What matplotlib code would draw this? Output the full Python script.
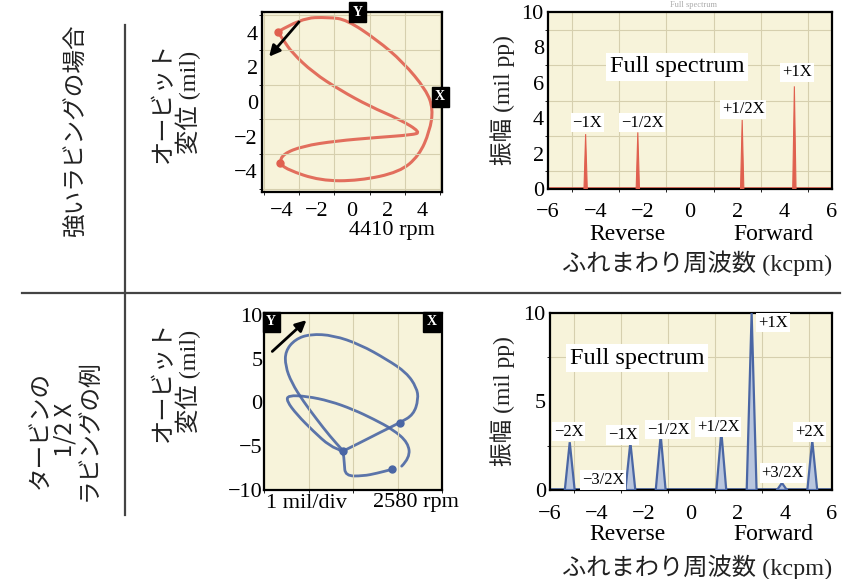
import matplotlib
matplotlib.use("Agg")
import matplotlib.pyplot as plt
from matplotlib.path import Path
from matplotlib.patches import PathPatch
import numpy as np

W, H = 859, 579
SERIF = ["Liberation Serif", "Noto Sans CJK JP"]
GOTH = ["Noto Sans CJK JP", "DejaVu Sans"]
PAPER = "#f7f3da"
GRID = "#d6cfae"
RED = "#e0604f"
BLUE = "#4a66a4"

# --- orbit, strong rub (4410 rpm), mil
orb1_x = [-4.2, -2.9, -1.3, -0.3, 1.4, 2.9, 4.2, 4.6, 4.4, 3.8, 2.7, 0.4, -1.8, -3.7,
          -4.1, -3.9, -2.8, -0.9, 1.4, 3.4, 3.9, 2.7, 1.0, -0.7, -2.2, -3.4, -3.9, -4.2]
orb1_y = [4.05, 4.85, 4.9, 4.75, 3.6, 2.3, 0.7, -0.4, -1.7, -3.1, -4.05, -4.55, -4.55, -3.9,
          -3.5, -3.0, -2.55, -2.25, -2.05, -1.9, -1.75, -1.0, -0.25, 0.7, 1.7, 2.85, 3.6, 4.05]
orb1_dot_x = [-4.2, -4.1]
orb1_dot_y = [4.05, -3.5]

# --- orbit, turbine 1/2X rub (2580 rpm), mil
orb2a_x = [5.47, 6.4, 6.2, 4.5, 2.3, 0.0, -2.6, -5.2, -7.3, -7.45, -6.3, -4.45, -2.6, -1.1,
           -0.98, -0.87, 1.15, 2.65, 4.35]
orb2a_y = [-7.28, -6.32, -4.6, -3.1, -1.9, -0.8, 0.15, 0.7, 0.8, 0.15, -1.4, -3.3, -5.0, -5.55,
           -6.9, -8.4, -8.4, -8.1, -7.65]
orb2b_x = [-1.1, 0.8, 3.0, 5.3, 6.8, 7.35, 7.15, 6.0, 3.8, 0.8, -2.2, -4.8, -6.5, -7.6,
           -7.6, -6.9, -5.6, -4.1, -2.6, -1.1]
orb2b_y = [-5.55, -4.6, -3.45, -2.3, -1.4, 0.35, 1.7, 3.4, 4.9, 6.6, 7.65, 7.8, 7.2, 5.85,
           4.15, 2.25, 0.15, -1.9, -3.85, -5.55]
orb2_dot_x = [5.3, -1.1, 4.35]
orb2_dot_y = [-2.3, -5.55, -7.65]

# --- full spectra (kcpm, mil pp)
spec1_f = [-4.41, -2.205, 2.205, 4.41]
spec1_a = [3.1, 3.2, 3.9, 5.8]
spec1_lab = ["\u22121X", "\u22121/2X", "+1/2X", "+1X"]

spec2_f = [-5.16, -3.87, -2.58, -1.29, 1.29, 2.58, 3.87, 5.16]
spec2_a = [2.7, 0.1, 2.7, 3.1, 3.3, 10.0, 0.4, 2.8]
spec2_lab = ["\u22122X", "\u22123/2X", "\u22121X", "\u22121/2X", "+1/2X", "+1X", "+3/2X", "+2X"]


def box(l, t, r, b):
    return [l / W, 1 - b / H, (r - l) / W, (b - t) / H]


def ftext(x, y, s, **kw):
    fig.text(x / W, 1 - y / H, s, ha="center", va="center", **kw)


def paper(ax, xmaj, ymaj):
    ax.set_facecolor(PAPER)
    ax.set_xticks(xmaj, minor=True)
    ax.set_yticks(ymaj, minor=True)
    ax.grid(True, which="minor", color=GRID, lw=0.8)
    for s in ax.spines.values():
        s.set_linewidth(1.6)
        s.set_color("black")
    ax.tick_params(length=0, labelsize=16, pad=3)
    for lab in ax.get_xticklabels() + ax.get_yticklabels():
        lab.set_family(SERIF)


def smooth(ax, xs, ys, **kw):
    # quadratic bezier through the midpoints, so the trace looks hand-smooth
    pts = np.column_stack([xs, ys])
    verts = [pts[0]]
    codes = [Path.MOVETO]
    for i in range(1, len(pts) - 1):
        verts += [pts[i], (pts[i] + pts[i + 1]) / 2]
        codes += [Path.CURVE3, Path.CURVE3]
    verts.append(pts[-1])
    codes.append(Path.LINETO)
    ax.add_patch(PathPatch(Path(verts, codes), fill=False, capstyle="round",
                           joinstyle="round", **kw))


def xybox(ax, x, y, s):
    ax.text(x, y, s, transform=ax.transAxes, ha="center", va="center", color="white",
            fontsize=10, family=SERIF, fontweight="bold", clip_on=False, zorder=10,
            bbox=dict(boxstyle="square,pad=0.25", fc="black", ec="black"))


fig = plt.figure(figsize=(W / 100, H / 100), dpi=100)

# divider lines
fig.add_artist(plt.Line2D([22 / W, 840 / W], [1 - 293 / H] * 2, color="#444", lw=1.6))
fig.add_artist(plt.Line2D([125 / W] * 2, [1 - 25 / H, 1 - 515 / H], color="#444", lw=1.6))

# row labels
ftext(76, 130, "強いラビングの場合", rotation=90, fontsize=17, family=GOTH, color="#222")
ftext(65, 430, "タービンの\n1/2 X\nラビングの例", rotation=90, fontsize=17, family=GOTH,
      color="#222", linespacing=1.05, multialignment="center")
for yc in [102, 381]:
    ftext(177, yc, "オービット\n変位 (mil)", rotation=90, fontsize=17.5, family=SERIF,
          color="#222", linespacing=1.05, multialignment="center")

# ---------------- top orbit
ax1 = fig.add_axes(box(262, 12, 442, 192))
ax1.set_xlim(-5.1, 5.1)
ax1.set_ylim(-5.2, 5.2)
ax1.set_xticks([-4, -2, 0, 2, 4])
ax1.set_yticks([-4, -2, 0, 2, 4])
ax1.set_xticklabels(["\u22124", "\u22122", "0", "2", "4"])
ax1.set_yticklabels(["\u22124", "\u22122", "0", "2", "4"])
paper(ax1, np.arange(-5, 6, 1), np.arange(-5, 6, 1))
ax1.tick_params(axis="x", pad=7)
smooth(ax1, orb1_x, orb1_y, color=RED, lw=2.2, alpha=0.9)
ax1.plot(orb1_dot_x, orb1_dot_y, "o", color=RED, ms=5)
ax1.annotate("", xy=(-4.8, 2.5), xytext=(-2.9, 4.75),
             arrowprops=dict(arrowstyle="-|>", color="black", lw=2, mutation_scale=16))
xybox(ax1, 0.53, 1.0, "Y")
xybox(ax1, 0.99, 0.53, "X")
ftext(392, 230, "4410 rpm", fontsize=16, family=SERIF)

# ---------------- bottom orbit
ax2 = fig.add_axes(box(264, 313, 442, 490))
ax2.set_xlim(-10, 10)
ax2.set_ylim(-10, 10.2)
ax2.set_xticks([])
ax2.set_yticks([-10, -5, 0, 5, 10])
ax2.set_yticklabels(["\u221210", "\u22125", "0", "5", "10"])
paper(ax2, np.arange(-10, 11, 5), np.arange(-10, 11, 5))
ax2.tick_params(axis="y", pad=1)
smooth(ax2, orb2a_x, orb2a_y, color=BLUE, lw=2, alpha=0.9)
smooth(ax2, orb2b_x, orb2b_y, color=BLUE, lw=2, alpha=0.9)
ax2.plot(orb2_dot_x, orb2_dot_y, "o", color=BLUE, ms=5)
ax2.annotate("", xy=(-5.0, 9.6), xytext=(-9.3, 5.6),
             arrowprops=dict(arrowstyle="-|>", color="black", lw=2, mutation_scale=16))
xybox(ax2, 0.04, 0.95, "Y")
xybox(ax2, 0.94, 0.95, "X")
ftext(306, 503, "1 mil/div", fontsize=16, family=SERIF)
ftext(416, 503, "2580 rpm", fontsize=16, family=SERIF)

# ---------------- spectra
lab1_pos = [(-4.35, 3.75), (-2.03, 3.75), (2.24, 4.5), (4.52, 6.6)]
lab2_pos = [(-5.2, 3.3), (-3.74, 0.56), (-2.9, 3.1), (-0.98, 3.4), (1.15, 3.56), (3.49, 9.45),
            (3.91, 0.96), (5.06, 3.28)]

rows = [
    (box(548, 12, 832, 189), spec1_f, spec1_a, spec1_lab, lab1_pos, RED, 0.14, [0, 2, 4, 6, 8, 10],
     np.arange(0, 11, 1), 100, 235, 263, (-0.55, 6.9), 10),
    (box(550, 313, 832, 490), spec2_f, spec2_a, spec2_lab, lab2_pos, BLUE, 0.42, [0, 5, 10],
     np.arange(0, 11, 2.5), 401, 535, 567, (-2.3, 7.45), 11),
]
for (pos, f, a, labs, lpos, col, w, yt, ygrid, ymid, yfr, yxl, fsp, xpad) in rows:
    ax = fig.add_axes(pos)
    ax.set_xlim(-6, 6)
    ax.set_ylim(0, 10)
    ax.set_xticks([-6, -4, -2, 0, 2, 4, 6])
    ax.set_xticklabels(["\u22126", "\u22124", "\u22122", "0", "2", "4", "6"])
    ax.set_yticks(yt)
    paper(ax, np.arange(-6, 7, 1), ygrid)
    ax.tick_params(axis="x", pad=xpad)
    ax.axhline(0.06, color=col, lw=1.2, zorder=2)
    for fi, ai in zip(f, a):
        if col == RED:
            ax.fill([fi - w / 2, fi, fi + w / 2], [0, ai, 0], color=col, lw=0.8, zorder=3)
        else:
            ax.fill([fi - w / 2, fi, fi + w / 2], [0, ai, 0], fc="#b9c6de", ec=col, lw=1.6,
                    zorder=3, clip_on=True)
    for s, (lx, ly) in zip(labs, lpos):
        ax.text(lx, ly, s, ha="center", va="center", fontsize=12, family=SERIF, zorder=5,
                bbox=dict(boxstyle="square,pad=0.1", fc="white", ec="none"))
    ax.text(fsp[0], fsp[1], "Full spectrum", ha="center", va="center", fontsize=17.5,
            family=SERIF, zorder=5, bbox=dict(boxstyle="square,pad=0.15", fc="white", ec="none"))
    ftext(503, ymid, "振幅 (mil pp)", rotation=90, fontsize=17, family=SERIF, color="#222")
    ftext(627, yfr, "Reverse", fontsize=17, family=SERIF)
    ftext(773, yfr, "Forward", fontsize=17, family=SERIF)
    ftext(697, yxl, "ふれまわり周波数 (kcpm)", fontsize=17.5, family=SERIF, color="#222")

ftext(693, 5, "Full spectrum", fontsize=6, family=SERIF, color="#aaa")

fig.savefig("out.png", dpi=100)
